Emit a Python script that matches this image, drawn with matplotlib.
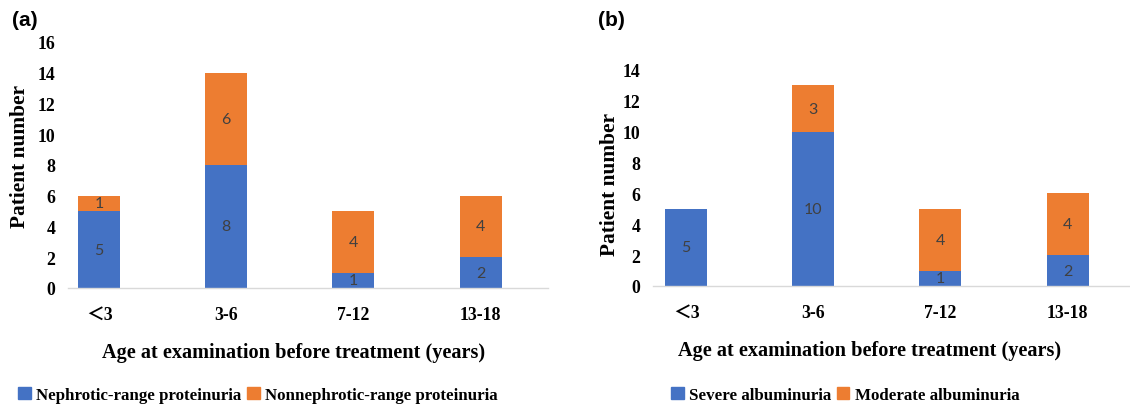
import matplotlib
matplotlib.use("Agg")
import matplotlib.pyplot as plt
import numpy as np
from matplotlib.patches import Patch

categories = ["＜3", "3-6", "7-12", "13-18"]

a_series1_name = "Nephrotic-range proteinuria"
a_series2_name = "Nonnephrotic-range proteinuria"
a_series1 = [5, 8, 1, 2]
a_series2 = [1, 6, 4, 4]

b_series1_name = "Severe albuminuria"
b_series2_name = "Moderate albuminuria"
b_series1 = [5, 10, 1, 2]
b_series2 = [0, 3, 4, 4]

a_yticks = [0, 2, 4, 6, 8, 10, 12, 14, 16]
b_yticks = [0, 2, 4, 6, 8, 10, 12, 14]

BLUE = "#4472C4"
ORANGE = "#ED7D31"
SERIF = ["Liberation Serif", "Noto Sans CJK SC", "DejaVu Serif"]

W, H = 1130, 406
fig = plt.figure(figsize=(W / 100, H / 100), dpi=100)


def px_axes(left, right, bottom, top):
    return fig.add_axes([left / W, 1 - bottom / H, (right - left) / W, (bottom - top) / H])


def draw(ax, s1, s2, yticks, xlim, ylabelpad, xlabel_x, ylabel_y):
    x = np.arange(len(categories))
    w = 0.33
    ax.bar(x, s1, width=w, color=BLUE, zorder=2)
    ax.bar(x, s2, width=w, bottom=s1, color=ORANGE, zorder=2)
    for i in range(len(categories)):
        if s1[i] > 0:
            ax.text(x[i], s1[i] / 2, str(s1[i]), ha="center", va="center",
                    fontsize=11.5, color="#404040", family="Lato", zorder=3)
        if s2[i] > 0:
            ax.text(x[i], s1[i] + s2[i] / 2, str(s2[i]), ha="center", va="center",
                    fontsize=11.5, color="#404040", family="Lato", zorder=3)
    ax.set_xlim(*xlim)
    ax.set_ylim(yticks[0], yticks[-1])
    ax.set_yticks(yticks)
    ax.set_xticks(x)
    ax.set_xticklabels(categories)
    for sp in ["top", "right", "left"]:
        ax.spines[sp].set_visible(False)
    ax.spines["bottom"].set_color("#D9D9D9")
    ax.spines["bottom"].set_linewidth(1.0)
    ax.tick_params(axis="both", length=0)
    ax.tick_params(axis="y", pad=9)
    ax.tick_params(axis="x", pad=13)
    for lab in ax.get_xticklabels() + ax.get_yticklabels():
        lab.set_family(SERIF)
        lab.set_fontweight("bold")
        lab.set_fontsize(12.8)
        lab.set_color("black")
    ax.set_xlabel("Age at examination before treatment (years)", family=SERIF,
                  fontweight="bold", fontsize=14.6, labelpad=13.5)
    ax.xaxis.label.set_x(xlabel_x)
    ax.set_ylabel("Patient number", family=SERIF, fontweight="bold", fontsize=15.4,
                  labelpad=ylabelpad)
    ax.yaxis.label.set_y(ylabel_y)
    ax.set_facecolor("none")


ax_a = px_axes(68, 548, 289, 43)
draw(ax_a, a_series1, a_series2, a_yticks, (-0.245, 3.53), 5.5, 0.47, 0.537)
ax_b = px_axes(653, 1130, 287, 71)
draw(ax_b, b_series1, b_series2, b_yticks, (-0.26, 3.49), 2.0, 0.455, 0.475)

fig.text(12 / W, 1 - 20 / H, "(a)", family="Liberation Sans", fontweight="bold",
         fontsize=15, va="center", ha="left")
fig.text(598 / W, 1 - 20 / H, "(b)", family="Liberation Sans", fontweight="bold",
         fontsize=15, va="center", ha="left")

leg_kw = dict(loc="center", ncol=2, frameon=False, handlelength=0.75, handleheight=0.75,
              handletextpad=0.3, columnspacing=0.35, borderpad=0.2,
              prop={"family": SERIF, "weight": "bold", "size": 12.2})
fig.legend(handles=[Patch(color=BLUE, label=a_series1_name), Patch(color=ORANGE, label=a_series2_name)],
           bbox_to_anchor=(258 / W, 1 - 396 / H), **leg_kw)
fig.legend(handles=[Patch(color=BLUE, label=b_series1_name), Patch(color=ORANGE, label=b_series2_name)],
           bbox_to_anchor=(845 / W, 1 - 396 / H), **leg_kw)

fig.savefig("out.png", dpi=100, facecolor="white")
